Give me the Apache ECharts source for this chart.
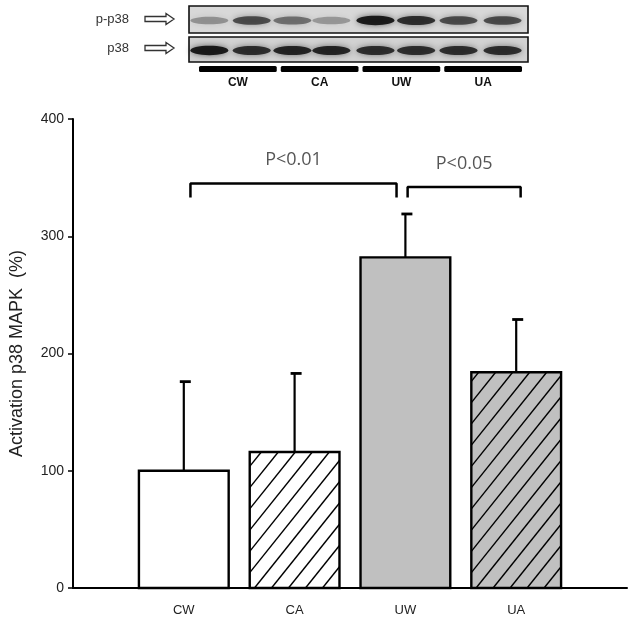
<!DOCTYPE html>
<html><head><meta charset="utf-8">
<script src="https://cdn.jsdelivr.net/npm/echarts@6/dist/echarts.min.js"></script>
<style>html,body{margin:0;padding:0;background:#fff}#c{width:634px;height:626px}</style>
</head><body><div id="c"></div>
<script>
// ---- data ----
const categories = ['CW', 'CA', 'UW', 'UA'];
const means = [100, 116, 282, 184];
const errUp = [76, 67, 37, 45];
const fills = ['#ffffff', '#ffffff', '#c0c0c0', '#c0c0c0'];
const hatched = [false, true, false, true];
const yTicks = [0, 100, 200, 300, 400];
const pLabels = ['P<0.01', 'P<0.05'];
// blot band intensities (0..1) for 8 lanes
const pp38Bands = [0.3, 0.7, 0.5, 0.25, 0.95, 0.85, 0.7, 0.7];
const p38Bands = [0.95, 0.85, 0.9, 0.9, 0.85, 0.85, 0.85, 0.85];

const chart = echarts.init(document.getElementById('c'));

function hatchLines(L, T, W, H, spacing, k) {
  const R = L + W, B = T + H, out = [];
  for (let c = R; c > L - H / k; c -= spacing) {
    const s0 = Math.max(0, k * (L - c));
    const s1 = Math.min(H, k * (R - c));
    if (s1 > s0) out.push([c + s0 / k, B - s0, c + s1 / k, B - s1]);
  }
  return out;
}

const barData = categories.map((c, i) => [i + 1, means[i], errUp[i], i]);

// blot graphics
const blotL = 189, blotR = 528;
const graphics = [];
function blotRow(y0, y1, bands, bg) {
  graphics.push({type: 'rect', shape: {x: blotL, y: y0, width: blotR - blotL, height: y1 - y0},
    style: {fill: bg, stroke: '#111', lineWidth: 1.6}, z: 10});
  const w = blotR - blotL;
  const fr = [0.06, 0.185, 0.305, 0.42, 0.55, 0.67, 0.795, 0.925];
  bands.forEach((v, i) => {
    const cx = blotL + fr[i] * w;
    const g = Math.round(110 - 100 * v);
    graphics.push({type: 'ellipse', shape: {cx: cx, cy: (y0 + y1) / 2 + 1, rx: 19, ry: 3.5 + 1.2 * v},
      style: {fill: 'rgba(' + g + ',' + g + ',' + g + ',' + (0.3 + 0.65 * v) + ')',
        shadowBlur: 6, shadowColor: 'rgba(0,0,0,' + (0.6 * v) + ')'}, z: 11});
  });
}
blotRow(6, 33, pp38Bands, '#d8d8d8');
blotRow(37, 62, p38Bands, '#d2d2d2');
// labels + arrows
function arrow(x, y) {
  graphics.push({type: 'polygon', shape: {points: [[x, y - 2.5], [x + 21, y - 2.5], [x + 21, y - 5.5], [x + 29, y], [x + 21, y + 5.5], [x + 21, y + 2.5], [x, y + 2.5]]},
    style: {fill: '#fff', stroke: '#333', lineWidth: 1.3}, z: 10});
}
graphics.push({type: 'text', style: {text: 'p-p38', x: 129, y: 19, align: 'right', verticalAlign: 'middle',
  font: '13px "Liberation Sans", Arial', fill: '#333'}, z: 10});
graphics.push({type: 'text', style: {text: 'p38', x: 129, y: 48, align: 'right', verticalAlign: 'middle',
  font: '13px "Liberation Sans", Arial', fill: '#333'}, z: 10});
arrow(145, 19);
arrow(145, 48);
const segW = (blotR - blotL - 12) / 4;
categories.forEach((c, i) => {
  const x0 = blotL + 12 + i * segW;
  graphics.push({type: 'rect', shape: {x: x0 - 2, y: 66, width: segW - 4, height: 6, r: 1.5}, style: {fill: '#000'}, z: 10});
  graphics.push({type: 'text', style: {text: c, x: x0 + segW / 2 - 4, y: 83, align: 'center', verticalAlign: 'middle',
    font: 'bold 12px "Liberation Sans", Arial', fill: '#111'}, z: 10});
});

// bracket series data
const br1 = [[1.06, 333], [1.06, 345], [2.92, 345], [2.92, 333]];
const br2 = [[3.02, 333], [3.02, 342], [4.04, 342], [4.04, 333]];

chart.setOption({
  animation: false,
  backgroundColor: '#fff',
  graphic: graphics,
  grid: {left: 72, right: 7, top: 119, bottom: 38, containLabel: false},
  xAxis: {
    type: 'value', min: 0, max: 5, interval: 1,
    axisLine: {lineStyle: {color: '#000', width: 2}},
    axisTick: {show: false},
    splitLine: {show: false},
    axisLabel: {formatter: v => categories[v - 1] || '', color: '#222', fontSize: 13,
      fontFamily: '"Liberation Sans Narrow", "Liberation Sans", Arial', margin: 16}
  },
  yAxis: {
    type: 'value', min: 0, max: 400, interval: 100,
    name: 'Activation p38 MAPK  (%)', nameLocation: 'middle', nameGap: 47,
    nameTextStyle: {fontSize: 18, color: '#222', fontFamily: '"Liberation Sans", Arial'},
    axisLine: {show: true, lineStyle: {color: '#000', width: 2}},
    axisTick: {show: true, length: 5, inside: false, lineStyle: {color: '#000', width: 1.5}},
    splitLine: {show: false},
    axisLabel: {color: '#222', fontSize: 14, margin: 9, fontFamily: '"Liberation Sans Narrow", "Liberation Sans", Arial'}
  },
  series: [
    {
      type: 'custom',
      data: barData,
      z: 5,
      renderItem: function (params, api) {
        const i = api.value(3);
        const x = api.value(0), v = api.value(1), e = api.value(2);
        const base = api.coord([x, 0]);
        const top = api.coord([x, v]);
        const et = api.coord([x, v + e]);
        const w = api.size([0.81, 0])[0];
        const L = base[0] - w / 2, T = top[1], H = base[1] - top[1];
        const children = [];
        children.push({type: 'line', shape: {x1: base[0], y1: T, x2: base[0], y2: et[1]}, style: {stroke: '#000', lineWidth: 2.2}});
        children.push({type: 'line', shape: {x1: base[0] - 4, y1: et[1], x2: base[0] + 7, y2: et[1]}, style: {stroke: '#000', lineWidth: 2.8}});
        children.push({type: 'rect', shape: {x: L, y: T, width: w, height: H}, style: {fill: fills[i], stroke: null}});
        if (hatched[i]) {
          hatchLines(L, T, w, H, 17, 1.25).forEach(s => {
            children.push({type: 'line', shape: {x1: s[0], y1: s[1], x2: s[2], y2: s[3]}, style: {stroke: '#000', lineWidth: 1.4}});
          });
        }
        children.push({type: 'rect', shape: {x: L, y: T, width: w, height: H}, style: {fill: null, stroke: '#000', lineWidth: 2.4}});
        return {type: 'group', children: children};
      }
    },
    {type: 'line', data: br1, symbol: 'none', lineStyle: {color: '#000', width: 2.5}, z: 6},
    {type: 'line', data: br2, symbol: 'none', lineStyle: {color: '#000', width: 2.5}, z: 6},
    {type: 'scatter', symbolSize: 0, z: 7,
      data: [[1.99, 365, pLabels[0]], [3.53, 362, pLabels[1]]],
      label: {show: true, formatter: p => p.data[2], position: 'inside', fontSize: 18, color: '#2a2a2a',
        fontFamily: '"Open Sans", "Noto Sans", sans-serif'}}
  ]
});
</script></body></html>
